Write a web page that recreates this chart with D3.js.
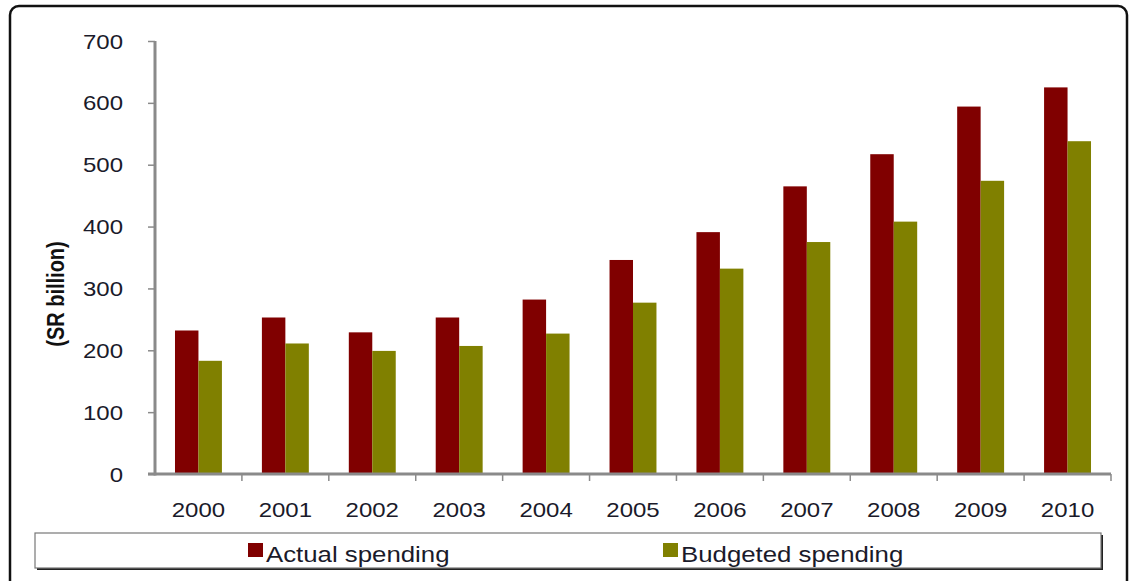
<!DOCTYPE html>
<html>
<head>
<meta charset="utf-8">
<script src="https://cdnjs.cloudflare.com/ajax/libs/d3/7.8.5/d3.min.js"></script>
<style>
  html, body { margin: 0; padding: 0; background: #fff; }
  svg { display: block; font-family: "Liberation Sans", Arial, sans-serif; }
</style>
</head>
<body>
<svg id="chart" width="1133" height="581"></svg>
<script>
// Saudi government spending, SR billion
const years = ["2000", "2001", "2002", "2003", "2004", "2005", "2006", "2007", "2008", "2009", "2010"];
const actualSpending = [232, 253, 229, 253, 282, 346, 391, 465, 517, 594, 625];
const budgetedSpending = [183, 211, 199, 207, 227, 277, 332, 375, 408, 474, 538];
const seriesNames = ["Actual spending", "Budgeted spending"];
const seriesColors = ["#800000", "#808000"];
const yTicks = [0, 100, 200, 300, 400, 500, 600, 700];

// text in this chart is drawn slightly wide
const WIDE = 1.2;
const textColor = "#1a1a2a";

const svg = d3.select("#chart");

// outer rounded frame
svg.append("rect")
  .attr("x", 10).attr("y", 6).attr("width", 1117).attr("height", 590)
  .attr("rx", 9).attr("ry", 9)
  .attr("fill", "#fff").attr("stroke", "#111").attr("stroke-width", 2.5);

const plot = { left: 155, right: 1111, top: 41, bottom: 474 };

const x = d3.scaleBand().domain(years).range([plot.left, plot.right]).paddingInner(0).paddingOuter(0);
const y = d3.scaleLinear().domain([0, 700]).range([plot.bottom, plot.top]);

const groupFrac = 0.54;
const xs = d3.scaleBand().domain(seriesNames)
  .range([0, x.bandwidth() * groupFrac]).padding(0);
const groupOffset = (x.bandwidth() * (1 - groupFrac)) / 2;

const rows = years.map((yr, i) => ({ year: yr, values: [actualSpending[i], budgetedSpending[i]] }));

// bars
const groups = svg.append("g").selectAll("g").data(rows).join("g")
  .attr("transform", d => `translate(${x(d.year) + groupOffset},0)`);
groups.selectAll("rect")
  .data(d => d.values.map((v, k) => ({ name: seriesNames[k], value: v, color: seriesColors[k] })))
  .join("rect")
  .attr("x", d => xs(d.name))
  .attr("width", xs.bandwidth())
  .attr("y", d => y(d.value))
  .attr("height", d => y(0) - y(d.value))
  .attr("fill", d => d.color);

// y axis (line + ticks from d3, labels drawn wide below)
const yAxis = svg.append("g")
  .attr("transform", `translate(${plot.left},0)`)
  .call(d3.axisLeft(y).tickValues(yTicks).tickSize(7).tickFormat("").tickSizeOuter(0));
yAxis.select(".domain").attr("stroke", "#8a8a8a").attr("stroke-width", 3)
  .attr("d", `M0,${plot.top}V${plot.bottom + 1.5}`);
yAxis.selectAll(".tick line").attr("stroke", "#8a8a8a").attr("stroke-width", 1.5);

svg.append("g").selectAll("text").data(yTicks).join("text")
  .attr("transform", d => `translate(123,${y(d) + 7.5}) scale(${WIDE},1)`)
  .attr("text-anchor", "end")
  .attr("font-size", 20).attr("fill", textColor)
  .text(d => d);

// x axis with ticks at category boundaries
const xAxisG = svg.append("g").attr("transform", `translate(0,${plot.bottom})`);
xAxisG.append("line")
  .attr("x1", plot.left - 7).attr("x2", plot.right)
  .attr("stroke", "#8a8a8a").attr("stroke-width", 3);
const bounds = years.map(yr => x(yr)).concat([plot.right]);
xAxisG.selectAll("line.tk").data(bounds.slice(1)).join("line")
  .attr("class", "tk")
  .attr("x1", d => d).attr("x2", d => d)
  .attr("y1", 0).attr("y2", 7)
  .attr("stroke", "#8a8a8a").attr("stroke-width", 1.5);
xAxisG.selectAll("text").data(years).join("text")
  .attr("transform", d => `translate(${x(d) + x.bandwidth() / 2},43) scale(${WIDE},1)`)
  .attr("text-anchor", "middle")
  .attr("fill", textColor).attr("font-size", 20)
  .text(d => d);

// y axis title
svg.append("text")
  .attr("transform", `translate(56,294) scale(${WIDE},1) rotate(-90)`)
  .attr("text-anchor", "middle")
  .attr("dominant-baseline", "central")
  .attr("font-weight", "bold").attr("font-size", 20).attr("fill", "#111")
  .text("(SR billion)");

// legend box with shadow
const lg = svg.append("g");
lg.append("rect")
  .attr("x", 37).attr("y", 535).attr("width", 1066).attr("height", 35)
  .attr("fill", "#222");
lg.append("rect")
  .attr("x", 35).attr("y", 533).attr("width", 1066).attr("height", 35)
  .attr("fill", "#fff").attr("stroke", "#777").attr("stroke-width", 1.2);

const legendItems = [
  { name: seriesNames[0], color: seriesColors[0], x: 248 },
  { name: seriesNames[1], color: seriesColors[1], x: 663 }
];
const li = lg.selectAll("g.item").data(legendItems).join("g").attr("class", "item")
  .attr("transform", d => `translate(${d.x},0)`);
li.append("rect").attr("x", 0).attr("y", 543).attr("width", 15).attr("height", 14)
  .attr("fill", d => d.color);
li.append("text")
  .attr("transform", `translate(18,562) scale(${WIDE},1)`)
  .attr("font-size", 21.5).attr("fill", textColor)
  .text(d => d.name);
</script>
</body>
</html>
